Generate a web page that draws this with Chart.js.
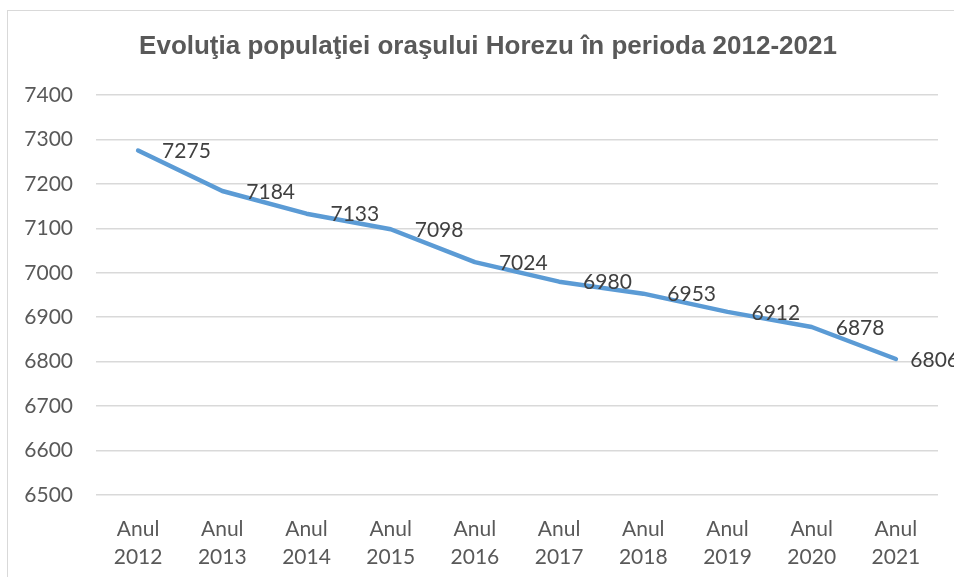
<!DOCTYPE html>
<html>
<head>
<meta charset="utf-8">
<script src="https://cdn.jsdelivr.net/npm/chart.js@4.4.1/dist/chart.umd.min.js"></script>
<style>
  html, body { margin: 0; padding: 0; background: #fff; width: 954px; height: 577px; overflow: hidden; }
  #box { position: absolute; left: 7px; top: 10px; width: 960px; height: 600px; border: 1px solid #d9d9d9; background: #fff; }
  canvas { display: block; }
</style>
</head>
<body>
<div id="box"><canvas id="chart" width="960" height="600"></canvas></div>
<script>
// Data
const years = ['2012', '2013', '2014', '2015', '2016', '2017', '2018', '2019', '2020', '2021'];
const population = [7275, 7184, 7133, 7098, 7024, 6980, 6953, 6912, 6878, 6806];
const yMin = 6500;
const yMax = 7400;
const yStep = 100;

const labelFont = '21px Lato';

// Draw the value next to each point (to the right, like Excel)
const valueLabels = {
  id: 'valueLabels',
  afterDatasetsDraw(chart) {
    const ctx = chart.ctx;
    const meta = chart.getDatasetMeta(0);
    ctx.save();
    ctx.font = labelFont;
    ctx.fillStyle = '#404040';
    ctx.textAlign = 'left';
    ctx.textBaseline = 'middle';
    meta.data.forEach((pt, i) => {
      const txt = String(population[i]);
      const w = ctx.measureText(txt).width;
      const x = Math.min(pt.x + 24, chart.width - w - 9);
      ctx.fillText(txt, x, pt.y + 1);
    });
    ctx.restore();
  }
};

new Chart(document.getElementById('chart'), {
  type: 'line',
  data: {
    labels: years.map(y => ['Anul', y]),
    datasets: [{
      data: population,
      yAxisID: 'y',
      borderColor: '#5b9bd5',
      borderWidth: 4.5,
      borderJoinStyle: 'round',
      borderCapStyle: 'round',
      pointRadius: 0,
      tension: 0,
      fill: false
    }]
  },
  options: {
    responsive: false,
    animation: false,
    layout: { padding: 0 },
    plugins: {
      legend: { display: false },
      tooltip: { enabled: false },
      title: {
        display: true,
        text: 'Evoluţia populaţiei oraşului Horezu în perioda 2012-2021',
        color: '#595959',
        font: { family: 'Liberation Sans', size: 26, weight: 'bold' },
        padding: { top: 20.4, bottom: 32.4 }
      }
    },
    scales: {
      x: {
        offset: true,
        grid: { display: false, drawTicks: false },
        border: { display: false },
        ticks: {
          color: '#595959',
          font: { family: 'Lato', size: 21, lineHeight: 1.33 },
          padding: 20,
          maxRotation: 0
        },
        afterFit(scale) { scale.height = 116; }
      },
      y: {
        min: yMin,
        max: yMax,
        grid: { color: '#d9d9d9', lineWidth: 1.5, drawTicks: false },
        border: { display: false },
        ticks: {
          stepSize: yStep,
          color: '#595959',
          font: { family: 'Lato', size: 21 },
          padding: 23,
          callback: v => String(v)
        },
        afterFit(scale) { scale.width = 88; }
      },
      // empty right-hand margin so the plot ends before the chart border
      yRight: {
        position: 'right',
        min: yMin,
        max: yMax,
        grid: { display: false, drawTicks: false },
        border: { display: false },
        ticks: { display: false },
        afterFit(scale) { scale.width = 30; }
      }
    }
  },
  plugins: [valueLabels]
});
</script>
</body>
</html>
